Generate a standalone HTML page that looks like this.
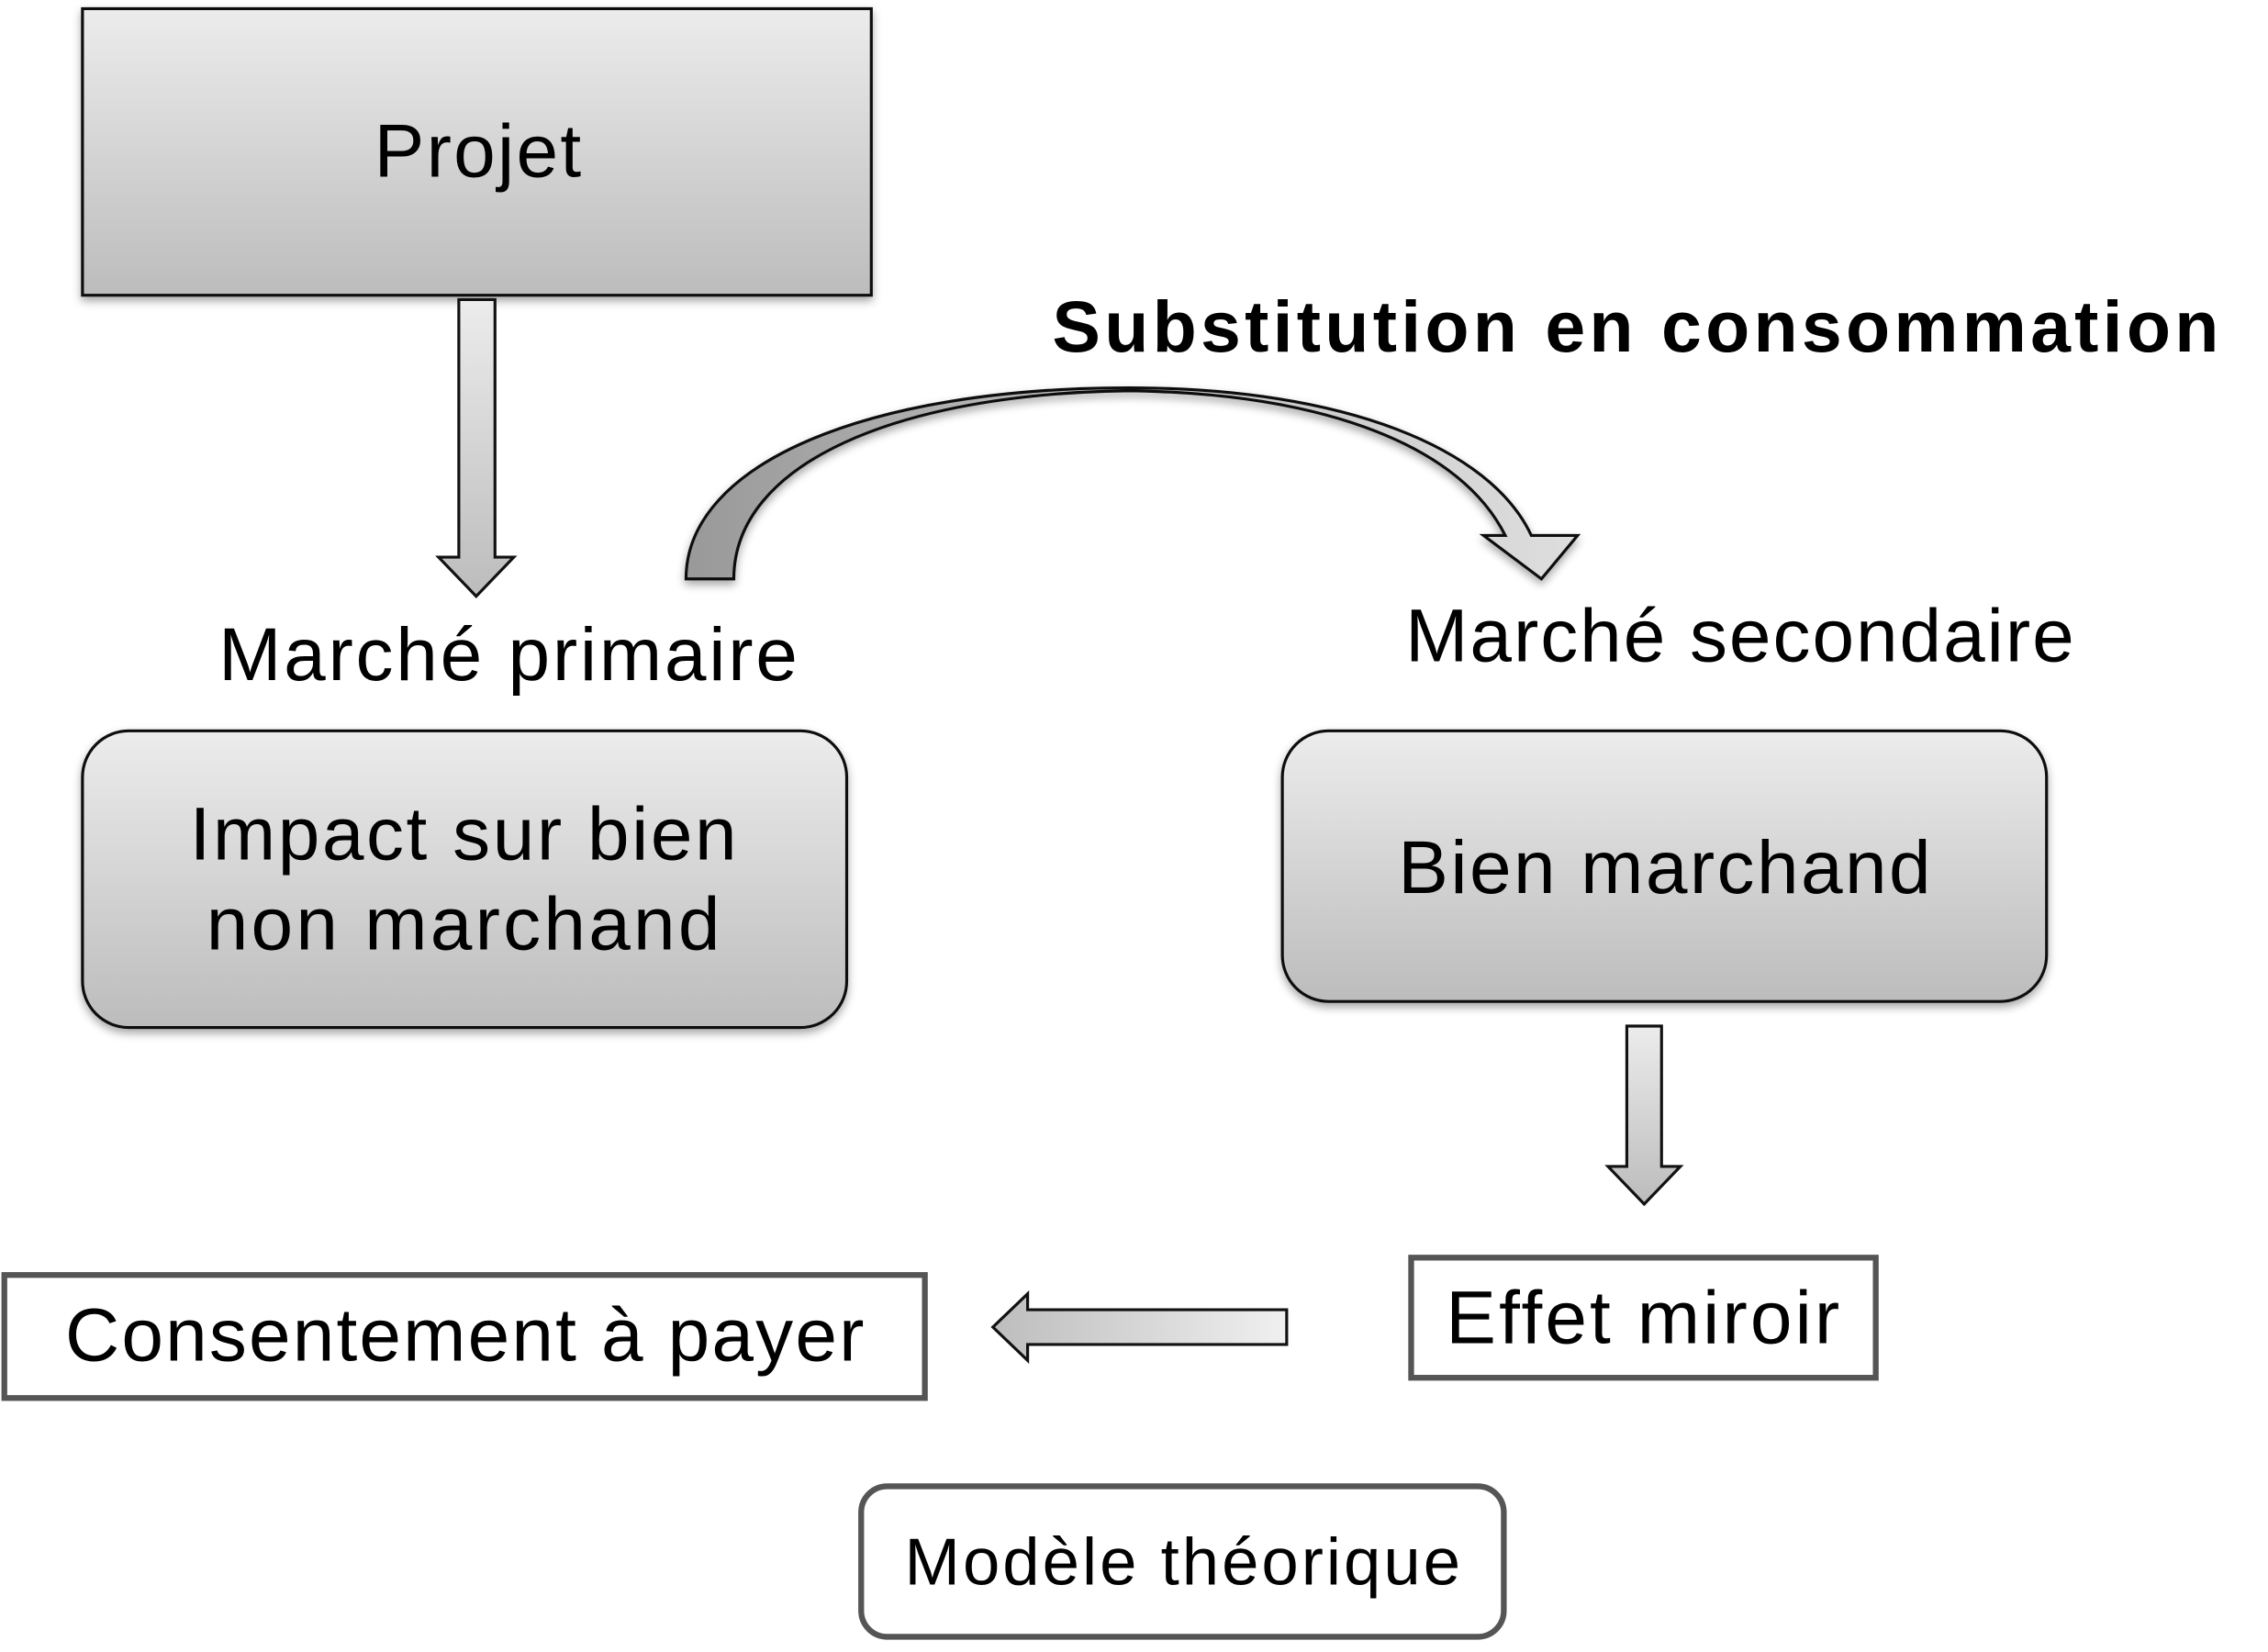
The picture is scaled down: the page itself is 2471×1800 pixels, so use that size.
<!DOCTYPE html>
<html><head><meta charset="utf-8"><style>html,body{margin:0;padding:0;background:#fff}svg{display:block}</style></head>
<body>
<svg width="2471" height="1800" viewBox="0 0 1567 1141.5" preserveAspectRatio="none" xmlns="http://www.w3.org/2000/svg" font-family="Liberation Sans, sans-serif">
<defs>
<linearGradient id="g" x1="0" y1="0" x2="0" y2="1"><stop offset="0" stop-color="#ececec"/><stop offset="1" stop-color="#bcbcbc"/></linearGradient>
<linearGradient id="gh" x1="0" y1="0" x2="1" y2="0"><stop offset="0" stop-color="#bdbdbd"/><stop offset="1" stop-color="#f0f0f0"/></linearGradient>
<linearGradient id="gc" x1="0" y1="0" x2="1" y2="0"><stop offset="0" stop-color="#999"/><stop offset="0.5" stop-color="#c0c0c0"/><stop offset="1" stop-color="#dedede"/></linearGradient>
<filter id="sh" x="-10%" y="-10%" width="120%" height="130%"><feDropShadow dx="0" dy="3" stdDeviation="3" flood-color="#000" flood-opacity="0.35"/></filter>
</defs>
<rect x="57" y="6" width="545" height="198" fill="url(#g)" stroke="#111" stroke-width="2" filter="url(#sh)"/>
<text x="330" y="122" font-size="52" text-anchor="middle" textLength="143">Projet</text>
<path d="M317,207 H342 V385 H355 L329,412 L303,385 H317 Z" fill="url(#g)" stroke="#111" stroke-width="2"/>
<text x="351" y="470" font-size="52" text-anchor="middle" textLength="400">Marché primaire</text>
<path d="M474,400 C474,320 600,268 780,268 C930,268 1030,310 1058,370 H1090 L1065,400 L1025,370 H1040 C1010,310 920,272 780,270 C620,272 507,320 507,400 Z" fill="url(#gc)" stroke="#111" stroke-width="2" filter="url(#sh)"/>
<text x="727" y="243" font-size="50" font-weight="bold" textLength="806">Substitution en consommation</text>
<text x="1202" y="457" font-size="52" text-anchor="middle" textLength="462">Marché secondaire</text>
<rect x="57" y="505" width="528" height="205" rx="32" fill="url(#g)" stroke="#111" stroke-width="2" filter="url(#sh)"/>
<text x="320" y="594" font-size="52" text-anchor="middle" textLength="378">Impact sur bien</text>
<text x="320" y="656" font-size="52" text-anchor="middle" textLength="355">non marchand</text>
<rect x="886" y="505" width="528" height="187" rx="32" fill="url(#g)" stroke="#111" stroke-width="2" filter="url(#sh)"/>
<text x="1150" y="617" font-size="52" text-anchor="middle" textLength="368">Bien marchand</text>
<path d="M1124,709 H1148 V806 H1161 L1136,832 L1111,806 H1124 Z" fill="url(#g)" stroke="#111" stroke-width="2"/>
<rect x="975" y="869" width="321" height="83" fill="#fff" stroke="#555" stroke-width="4"/>
<text x="1135" y="928" font-size="52" text-anchor="middle" textLength="272">Effet miroir</text>
<path d="M889,905 V929 H710 V940 L686,917 L710,894 V905 Z" fill="url(#gh)" stroke="#111" stroke-width="2"/>
<rect x="3" y="881" width="636" height="85" fill="#fff" stroke="#555" stroke-width="4"/>
<text x="321" y="940" font-size="52" text-anchor="middle" textLength="552">Consentement à payer</text>
<rect x="595" y="1027" width="444" height="104" rx="18" fill="#fff" stroke="#555" stroke-width="4"/>
<text x="817" y="1095" font-size="46" text-anchor="middle" textLength="384">Modèle théorique</text>
</svg>
</body></html>
